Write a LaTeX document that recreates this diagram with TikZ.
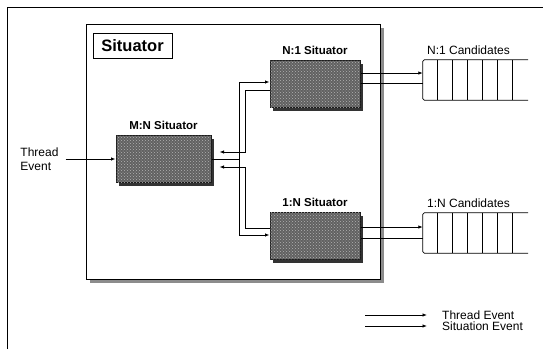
\documentclass[tikz,border=0pt]{standalone}
\usepackage{fontspec}
\setmainfont{Liberation Sans}
\usetikzlibrary{arrows.meta, positioning, shadows, patterns}

\begin{document}
\begin{tikzpicture}[
  x=1pt, y=-1pt,
  arr/.style={-{Latex[length=4.5pt, width=3.5pt]}, line width=0.8pt},
  wire/.style={line width=0.8pt},
  outerbox/.style={draw, line width=1pt, fill=white, minimum width=294pt, minimum height=255pt,
    inner sep=0pt, drop shadow={shadow xshift=4pt, shadow yshift=-4pt, fill=black!45, opacity=1}},
  titlebox/.style={draw, line width=0.8pt, minimum width=79pt, minimum height=25pt, inner sep=0pt,
    font=\fontsize{16.5}{18}\selectfont\bfseries},
  sitbox/.style={draw=black!90, line width=1pt, fill=black!62, minimum width=90pt,
    minimum height=47pt, inner sep=0pt,
    postaction={pattern=crosshatch dots, pattern color=black!30},
    drop shadow={shadow xshift=3pt, shadow yshift=-3pt, fill=black!80, opacity=1}},
  sitlabel/.style={font=\fontsize{11.5}{13}\selectfont\bfseries, inner sep=0pt},
  queue/.style={minimum width=105pt, minimum height=40pt, inner sep=0pt},
  plain/.style={font=\fontsize{12}{14}\selectfont, inner sep=0pt}
]
\useasboundingbox (0,0) rectangle (543,349);

% outer frame
\draw[line width=0.8pt] (7,349) -- (7,7) -- (543,7);

% Situator block
\node[outerbox] (situator) at (233,151.5) {};
\node[titlebox] (title) at (132.5,45.5) {Situator};

% Situators
\node[sitbox, minimum width=95pt] (sitMN) at (163.5,159) {};
\node[sitbox] (sitN1) at (315,84) {};
\node[sitbox] (sit1N) at (315,236) {};
\node[sitlabel, above=5pt of sitMN] (labMN) {M:N Situator};
\node[sitlabel, above=5pt of sitN1] (labN1) {N:1 Situator};
\node[sitlabel, above=5pt of sit1N] (lab1N) {1:N Situator};

% Candidate queues
\node[queue] (candN1) at (475.5,80) {};
\node[queue] (cand1N) at (475.5,233) {};
\node[plain, above=5pt of candN1, xshift=-7pt] (labCandN1) {N:1 Candidates};
\node[plain, above=5pt of cand1N, xshift=-7pt] (labCand1N) {1:N Candidates};
\foreach \q in {candN1, cand1N} {
  \draw[wire, rounded corners=1.5pt] (\q.north east) -- (\q.north west) -- (\q.south west) -- (\q.south east);
  \foreach \i in {1,...,6}
    \draw[wire] ([xshift={\i*15pt}]\q.north west) -- ([xshift={\i*15pt}]\q.south west);
}

% Thread event input
\node[plain, align=left] (thread) at (39.5,159) {Thread\\Event};
\draw[arr] ([xshift=7pt]thread.east) -- (sitMN.west);

% M:N -> N:1, 1:N
\coordinate (busA) at (239,159);
\draw[arr] (sitMN.east) -- (busA) |- ([yshift=2pt]sitN1.west);
\draw[arr] (busA) |- ([yshift=1pt]sit1N.west);

% N:1, 1:N -> M:N
\coordinate (busB) at (245,159);
\draw[arr, shorten >=8pt] ([yshift=-6pt]sitN1.west) -| ([yshift=7pt]busB) -- ([yshift=7pt]sitMN.east);
\draw[arr, shorten >=8pt] ([yshift=8pt]sit1N.west) -| ([yshift=-8pt]busB) -- ([yshift=-8pt]sitMN.east);

% outputs to candidates
\path ([yshift=11pt]sitN1.east) coordinate (outN1a) ([yshift=1pt]sitN1.east) coordinate (outN1b);
\path ([yshift=9pt]sit1N.east) coordinate (out1Na) ([yshift=-2pt]sit1N.east) coordinate (out1Nb);
\draw[arr] (outN1a) -- (outN1a -| candN1.west);
\draw[wire] (outN1b) -- (outN1b -| candN1.west);
\draw[arr] (out1Na) -- (out1Na -| cand1N.west);
\draw[wire] (out1Nb) -- (out1Nb -| cand1N.west);

% Legend
\node[plain, anchor=west] (legThread) at (442,315) {Thread Event};
\node[plain, anchor=west] (legSit) at (442,326) {Situation Event};
\coordinate (legA) at (365,315);
\coordinate (legB) at (365,326);
\draw[arr] (legA) -- ([xshift=-15pt]legThread.west);
\draw[arr] (legB) -- ([xshift=-15pt]legSit.west);

\end{tikzpicture}
\end{document}
